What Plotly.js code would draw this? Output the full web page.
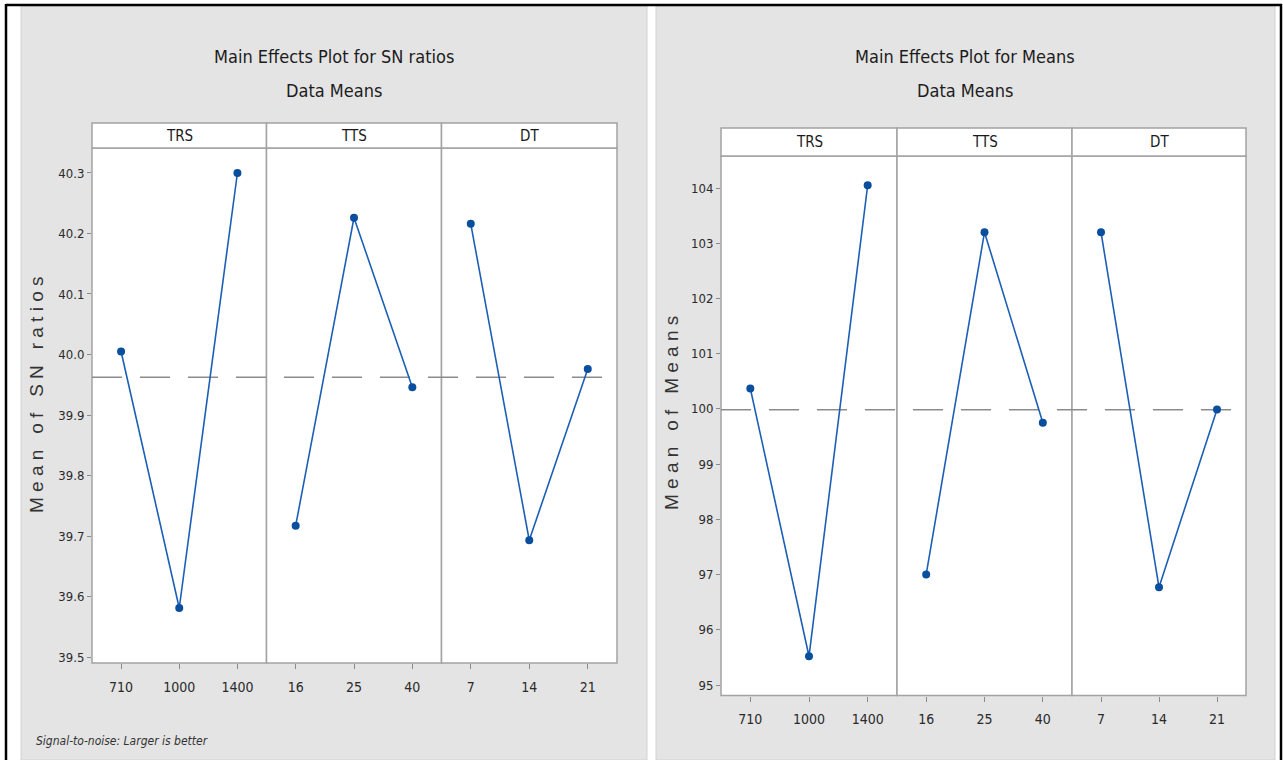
<!DOCTYPE html>
<html>
<head>
<meta charset="utf-8">
<script src="https://cdn.plot.ly/plotly-3.0.1.min.js"></script>
<style>html,body{margin:0;padding:0;background:#fff;}#chart{width:1283px;height:760px;}</style>
</head>
<body>
<div id="chart"></div>
<script>
// ---------------- data ----------------
const factors = ['TRS', 'TTS', 'DT'];
const trsLevels = ['710', '1000', '1400'];
const ttsLevels = ['16', '25', '40'];
const dtLevels = ['7', '14', '21'];

// Main effects for SN ratios (left chart)
const snTRS = [40.005, 39.581, 40.300];
const snTTS = [39.717, 40.226, 39.946];
const snDT  = [40.216, 39.693, 39.976];

// Main effects for Means (right chart)
const meanTRS = [100.37, 95.52, 104.05];
const meanTTS = [97.00, 103.20, 99.75];
const meanDT  = [103.20, 96.77, 99.99];

const leftTitle = 'Main Effects Plot for SN ratios';
const rightTitle = 'Main Effects Plot for Means';
const subTitle = 'Data Means';
const leftYTitle = 'M e a n   o f   S N   r a t i o s';
const rightYTitle = 'M e a n   o f   M e a n s';
const footNote = 'Signal-to-noise: Larger is better';

// ---------------- layout geometry ----------------
const W = 1283, H = 760;
const X = p => p / W;
const Y = p => 1 - p / H;
const NARROW = '"Liberation Sans Narrow", "DejaVu Sans Condensed", "Arial Narrow", sans-serif';
const FRAME = '#a3a3a3';
const BLUE_LINE = '#1d5fb5';
const BLUE_MARK = '#0a4f9e';

const grand = a => a.reduce((s, v) => s + v, 0) / a.length;
const snGrand = grand([...snTRS, ...snTTS, ...snDT]);
const meanGrand = grand([...meanTRS, ...meanTTS, ...meanDT]);

// panel pixel boundaries
const L = {x: [92, 266.5, 441.5, 617], top: 148, bottom: 663, head: 123};
const R = {x: [721, 897, 1072, 1246], top: 156, bottom: 695.5, head: 128};

const levels = [trsLevels, ttsLevels, dtLevels];
const snVals = [snTRS, snTTS, snDT];
const meanVals = [meanTRS, meanTTS, meanDT];

const traces = [];
for (let i = 0; i < 3; i++) {
  traces.push({
    type: 'scatter', mode: 'lines+markers', name: 'SN ' + factors[i],
    x: levels[i], y: snVals[i], xaxis: i === 0 ? 'x' : 'x' + (i + 1), yaxis: 'y',
    line: {color: BLUE_LINE, width: 1.6},
    marker: {color: BLUE_MARK, size: 8, symbol: 'circle'},
    showlegend: false, hoverinfo: 'x+y'
  });
  traces.push({
    type: 'scatter', mode: 'lines+markers', name: 'Means ' + factors[i],
    x: levels[i], y: meanVals[i], xaxis: 'x' + (i + 4), yaxis: 'y2',
    line: {color: BLUE_LINE, width: 1.6},
    marker: {color: BLUE_MARK, size: 8, symbol: 'circle'},
    showlegend: false, hoverinfo: 'x+y'
  });
}

function xAxis(x0, x1, anchor) {
  return {
    domain: [X(x0), X(x1)], anchor: anchor, type: 'category',
    range: [-0.5, 2.5], showgrid: false, zeroline: false, showline: false,
    ticks: 'outside', ticklen: 5, tickwidth: 1, tickcolor: '#8a8a8a',
    ticklabelstandoff: 6,
    tickfont: {family: NARROW, size: 14, color: '#2a2a2a'}, fixedrange: true
  };
}

const layout = {
  width: W, height: H,
  margin: {l: 0, r: 0, t: 0, b: 0, pad: 0},
  paper_bgcolor: '#ffffff', plot_bgcolor: 'rgba(0,0,0,0)',
  showlegend: false,
  xaxis:  xAxis(L.x[0], L.x[1], 'y'),
  xaxis2: xAxis(L.x[1], L.x[2], 'y'),
  xaxis3: xAxis(L.x[2], L.x[3], 'y'),
  xaxis4: xAxis(R.x[0], R.x[1], 'y2'),
  xaxis5: xAxis(R.x[1], R.x[2], 'y2'),
  xaxis6: xAxis(R.x[2], R.x[3], 'y2'),
  yaxis: {
    domain: [Y(L.bottom), Y(L.top)], anchor: 'x',
    range: [39.4901, 40.3413], dtick: 0.1, tickformat: '.1f',
    showgrid: false, zeroline: false, showline: false,
    ticks: 'outside', ticklen: 4, tickcolor: '#8a8a8a',
    tickfont: {family: NARROW, size: 13, color: '#2a2a2a'}, fixedrange: true
  },
  yaxis2: {
    domain: [Y(R.bottom), Y(R.top)], anchor: 'x4',
    range: [94.81, 104.58], dtick: 1, tickformat: 'd',
    showgrid: false, zeroline: false, showline: false,
    ticks: 'outside', ticklen: 4, tickcolor: '#8a8a8a',
    tickfont: {family: NARROW, size: 13, color: '#2a2a2a'}, fixedrange: true
  },
  shapes: [],
  annotations: []
};

const S = layout.shapes;
// background panels and page borders
S.push({type: 'rect', xref: 'paper', yref: 'paper', x0: X(21), x1: X(647), y0: 0, y1: Y(6), fillcolor: '#e4e4e4', line: {color: '#d2d2d2', width: 1}, layer: 'below'});
S.push({type: 'rect', xref: 'paper', yref: 'paper', x0: X(656), x1: X(1275), y0: 0, y1: Y(6), fillcolor: '#e4e4e4', line: {color: '#d2d2d2', width: 1}, layer: 'below'});
S.push({type: 'line', xref: 'paper', yref: 'paper', x0: X(6), x1: X(1282), y0: Y(5), y1: Y(5), line: {color: '#000', width: 2.5}, layer: 'above'});
S.push({type: 'line', xref: 'paper', yref: 'paper', x0: X(6), x1: X(6), y0: 0, y1: Y(4), line: {color: '#000', width: 2.5}, layer: 'above'});
S.push({type: 'line', xref: 'paper', yref: 'paper', x0: X(1281), x1: X(1281), y0: 0, y1: Y(4), line: {color: '#000', width: 2.5}, layer: 'above'});

function panels(G) {
  for (let i = 0; i < 3; i++) {
    S.push({type: 'rect', xref: 'paper', yref: 'paper', x0: X(G.x[i]), x1: X(G.x[i + 1]), y0: Y(G.bottom), y1: Y(G.top), fillcolor: '#ffffff', line: {color: FRAME, width: 1.5}, layer: 'below'});
    S.push({type: 'rect', xref: 'paper', yref: 'paper', x0: X(G.x[i]), x1: X(G.x[i + 1]), y0: Y(G.top), y1: Y(G.head), fillcolor: '#ffffff', line: {color: FRAME, width: 1.5}, layer: 'below'});
    layout.annotations.push({
      xref: 'paper', yref: 'paper', x: X((G.x[i] + G.x[i + 1]) / 2), y: Y((G.top + G.head) / 2),
      text: factors[i], showarrow: false, xanchor: 'center', yanchor: 'middle',
      font: {family: NARROW, size: 15, color: '#1a1a1a'}
    });
  }
}
panels(L);
panels(R);

// grand-mean reference lines
S.push({type: 'line', xref: 'paper', yref: 'y', x0: X(L.x[0]), x1: X(L.x[3]), y0: snGrand, y1: snGrand, line: {color: '#8c8c8c', width: 1.5, dash: '30px,18px'}, layer: 'below'});
S.push({type: 'line', xref: 'paper', yref: 'y2', x0: X(R.x[0]), x1: X(R.x[3]), y0: meanGrand, y1: meanGrand, line: {color: '#8c8c8c', width: 1.5, dash: '30px,18px'}, layer: 'below'});

const A = layout.annotations;
function title(cx, t) {
  A.push({xref: 'paper', yref: 'paper', x: X(cx), y: Y(57), text: t, showarrow: false, xanchor: 'center', yanchor: 'middle', font: {family: NARROW, size: 18, color: '#1c1c1c'}});
  A.push({xref: 'paper', yref: 'paper', x: X(cx), y: Y(90), text: subTitle, showarrow: false, xanchor: 'center', yanchor: 'middle', font: {family: NARROW, size: 18, color: '#1c1c1c'}});
}
title(334, leftTitle);
title(965.5, rightTitle);

A.push({xref: 'paper', yref: 'paper', x: X(36), y: Y(395), text: leftYTitle, textangle: -90, showarrow: false, xanchor: 'center', yanchor: 'middle', font: {family: '"Liberation Sans", Arial, sans-serif', size: 19, color: '#333'}});
A.push({xref: 'paper', yref: 'paper', x: X(671), y: Y(413), text: rightYTitle, textangle: -90, showarrow: false, xanchor: 'center', yanchor: 'middle', font: {family: '"Liberation Sans", Arial, sans-serif', size: 19, color: '#333'}});
A.push({xref: 'paper', yref: 'paper', x: X(34), y: Y(741), text: '<i>' + footNote + '</i>', showarrow: false, xanchor: 'left', yanchor: 'middle', font: {family: NARROW, size: 12, color: '#333'}});

Plotly.newPlot('chart', traces, layout, {displayModeBar: false, staticPlot: true});
</script>
</body>
</html>
